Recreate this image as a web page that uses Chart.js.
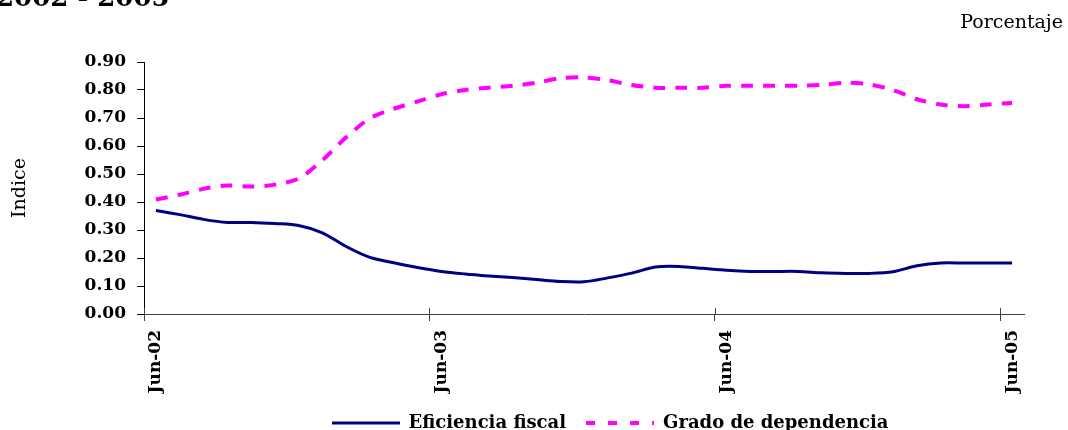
<!DOCTYPE html>
<html>
<head>
<meta charset="utf-8">
<script src="https://cdn.jsdelivr.net/npm/chart.js@4"></script>
<style>
body{margin:0;background:#fff;}
#wrap{position:relative;width:1068px;height:430px;overflow:hidden;}
.txt{position:absolute;font-family:'DejaVu Serif',serif;color:#000;white-space:nowrap;}
</style>
</head>
<body>
<div id="wrap">
<canvas id="grafico" width="1068" height="430"></canvas>
<div class="txt" style="left:-4px;top:-16px;font-size:26px;font-weight:bold;line-height:26px;">2002 - 2005</div>
<div class="txt" style="right:5px;top:12px;font-size:19px;line-height:19px;">Porcentaje</div>
</div>
<script>
// meses (jun-02 a jun-05)
const meses = [
"Jun-02","Jul-02","Ago-02","Sep-02","Oct-02","Nov-02","Dic-02","Ene-03","Feb-03","Mar-03","Abr-03","May-03",
"Jun-03","Jul-03","Ago-03","Sep-03","Oct-03","Nov-03","Dic-03","Ene-04","Feb-04","Mar-04","Abr-04","May-04",
"Jun-04","Jul-04","Ago-04","Sep-04","Oct-04","Nov-04","Dic-04","Ene-05","Feb-05","Mar-05","Abr-05","May-05",
"Jun-05"
];

const eficiencia = [0.370,0.355,0.338,0.327,0.327,0.323,0.316,0.290,0.241,0.202,0.183,0.166,
0.152,0.143,0.136,0.130,0.123,0.116,0.115,0.129,0.146,0.168,0.170,0.163,
0.156,0.152,0.152,0.152,0.147,0.145,0.145,0.151,0.172,0.182,0.182,0.182,0.182];

const dependencia = [0.409,0.426,0.447,0.459,0.455,0.462,0.484,0.549,0.631,0.699,0.733,0.759,
0.785,0.800,0.808,0.815,0.826,0.842,0.845,0.835,0.818,0.808,0.808,0.808,
0.815,0.815,0.815,0.815,0.818,0.826,0.820,0.800,0.767,0.748,0.742,0.748,0.754];

// eje y
const yMin = 0;
const yMax = 0.9;
const yPaso = 0.1;

// marcas cada 12 meses
const cadaMeses = 12;

Chart.defaults.font.family = "'DejaVu Serif', serif";
Chart.defaults.color = "#000";

// muestras de linea para la leyenda
function muestra(color, ancho, dash){
  let c = document.createElement("canvas");
  c.width = 68;
  c.height = 6;
  let g = c.getContext("2d");
  g.strokeStyle = color;
  g.lineWidth = ancho;
  g.setLineDash(dash);
  g.beginPath();
  g.moveTo(0, 3);
  g.lineTo(68, 3);
  g.stroke();
  return c;
}
const muestras = [muestra("#000080", 3, []), muestra("#ff00ff", 4, [9, 13])];

// marcas que cruzan el eje x y corrimiento de la leyenda
const extras = {
  id: "extras",
  afterLayout(chart){
    chart.legend.left += 26;
    chart.legend.right += 26;
  },
  afterDraw(chart){
    let s = chart.scales.x;
    let c = chart.ctx;
    c.save();
    c.strokeStyle = "#404040";
    c.lineWidth = 1;
    for(let i = 0; i < meses.length; i += cadaMeses){
      let x = Math.round((s.getPixelForValue(i - 1) + s.getPixelForValue(i)) / 2) + 0.5;
      c.beginPath();
      c.moveTo(x, s.top - 6);
      c.lineTo(x, s.top);
      c.stroke();
    }
    c.restore();
  }
};

let ctx = document.getElementById("grafico").getContext("2d");

let chart = new Chart(ctx, {
  type: "line",
  data: {
    labels: meses,
    datasets: [
      {
        label: "Eficiencia fiscal",
        data: eficiencia,
        borderColor: "#000080",
        backgroundColor: "#000080",
        borderWidth: 3,
        pointRadius: 0,
        tension: 0.3
      },
      {
        label: "Grado de dependencia",
        data: dependencia,
        borderColor: "#ff00ff",
        backgroundColor: "#ff00ff",
        borderWidth: 4,
        borderDash: [12, 10],
        pointRadius: 0,
        tension: 0.3
      }
    ]
  },
  options: {
    responsive: false,
    animation: false,
    devicePixelRatio: 1,
    layout: { padding: { top: 62, right: 44, bottom: -12, left: 0 } },
    plugins: {
      legend: {
        position: "bottom",
        fullSize: false,
        labels: {
          usePointStyle: true,
          pointStyleWidth: 68,
          padding: 20,
          color: "#000",
          font: { size: 18, weight: "bold" },
          generateLabels: function(chart){
            let items = Chart.defaults.plugins.legend.labels.generateLabels(chart);
            items.forEach((it, i) => { it.pointStyle = muestras[i]; });
            return items;
          }
        }
      },
      tooltip: { enabled: false }
    },
    scales: {
      x: {
        offset: true,
        grid: {
          offset: true,
          drawOnChartArea: false,
          tickLength: 7,
          color: c => (c.index % cadaMeses === 0 ? "#404040" : "rgba(0,0,0,0)")
        },
        border: { color: "#404040" },
        ticks: {
          autoSkip: false,
          minRotation: 90,
          maxRotation: 90,
          padding: 9,
          font: { size: 17, weight: "bold" },
          callback: function(v, i) {
            return i % cadaMeses === 0 ? this.getLabelForValue(v) : "";
          }
        },
        afterFit: s => { s.height = 80; }
      },
      y: {
        min: yMin,
        max: yMax,
        ticks: {
          stepSize: yPaso,
          padding: 11,
          font: { size: 17, weight: "bold" },
          callback: v => v.toFixed(2)
        },
        grid: { drawOnChartArea: false, tickLength: 7, color: "#000" },
        border: { color: "#000" },
        title: {
          display: true,
          text: "Indice",
          font: { size: 19 },
          padding: { top: 9, bottom: 0 }
        },
        afterFit: s => { s.width = 144; }
      }
    }
  },
  plugins: [extras]
});
</script>
</body>
</html>
